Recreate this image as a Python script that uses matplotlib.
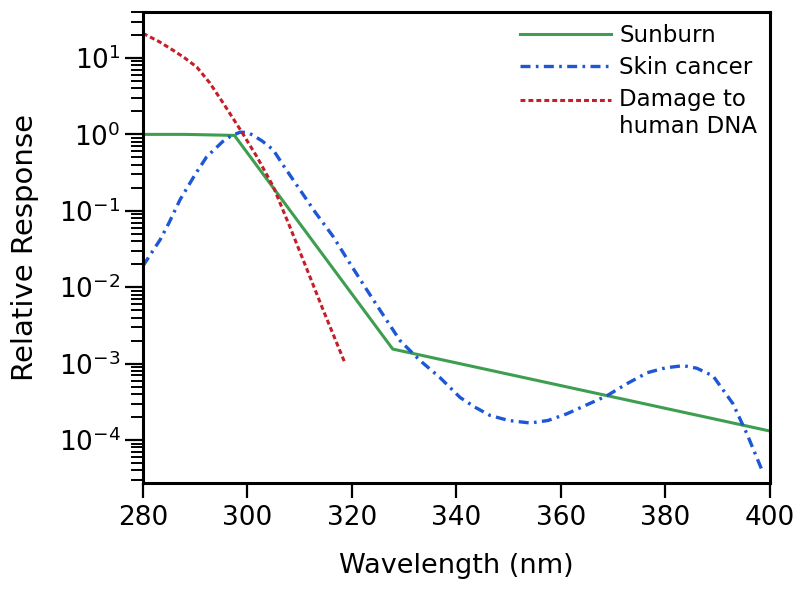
import numpy as np
import matplotlib
matplotlib.use("Agg")
import matplotlib.pyplot as plt
from matplotlib.ticker import LogLocator, NullFormatter, MultipleLocator

# Sunburn (action spectrum)
sun_x = [280, 288, 297.5, 327.8, 400]
sun_y = [1.0, 1.0, 0.97, 1.55e-3, 1.31e-4]

# Skin cancer
skin_x = [280, 283.3, 285, 287.1, 290, 292.2, 295.3, 296.8, 298.6, 300, 301, 302.8,
          304.9, 307, 310, 313, 316.4, 319.5, 322.9, 326, 329.2, 333, 336.8, 340.7,
          343.5, 346.4, 350, 354.1, 357.5, 361.1, 365, 368.8, 372.5, 376.5, 380,
          383.4, 386, 389.1, 392.9, 395.6, 398.7]
skin_y = [0.019, 0.042, 0.07, 0.14, 0.30, 0.51, 0.81, 0.95, 1.07, 1.06, 0.98, 0.82,
          0.63, 0.38, 0.19, 0.095, 0.046, 0.021, 0.0091, 0.0043, 0.002, 1.1e-3, 6.6e-4, 3.6e-4,
          2.7e-4, 2.1e-4, 1.8e-4, 1.67e-4, 1.8e-4, 2.2e-4, 2.9e-4, 3.8e-4, 5.4e-4, 7.6e-4, 8.8e-4,
          9.4e-4, 8.7e-4, 6.9e-4, 3.0e-4, 1.2e-4, 3.7e-5]

# Damage to human DNA
dna_x = [280, 283, 285.7, 288, 290.3, 292.8, 295.3, 298.6, 301.8, 304.9, 308.1, 311.4, 314.5, 318.7]
dna_y = [21, 16.5, 12.7, 10, 7.6, 4.7, 2.6, 1.16, 0.51, 0.21, 0.062, 0.017, 5e-3, 1.0e-3]

fig = plt.figure(figsize=(8.06, 5.9), dpi=100)
ax = fig.add_axes([0.1774, 0.1814, 0.7779, 0.7983])

ax.plot(sun_x, sun_y, color="#3d9e4f", lw=2.2, label="Sunburn")
l2, = ax.plot(skin_x, skin_y, color="#1d57d6", lw=2.4, label="Skin cancer")
l2.set_dashes([3, 1.6, 0.8, 1.6])
l3, = ax.plot(dna_x, dna_y, color="#c61e28", lw=2.2, label="Damage to\nhuman DNA")
l3.set_dashes([1.6, 1.0])

ax.set_yscale("log")
ax.set_xlim(280, 400)
ax.set_ylim(2.74e-5, 40)

ax.xaxis.set_major_locator(MultipleLocator(20))
ax.yaxis.set_major_locator(LogLocator(base=10, numticks=20))
ax.yaxis.set_minor_locator(LogLocator(base=10, subs=np.arange(2, 10), numticks=20))
ax.yaxis.set_minor_formatter(NullFormatter())

for s in ax.spines.values():
    s.set_linewidth(2.2)

ax.tick_params(axis="both", which="major", direction="out", width=1.6, labelsize=19)
ax.tick_params(axis="y", which="major", length=13, pad=3)
ax.tick_params(axis="y", which="minor", direction="out", length=9, width=1.4)
ax.tick_params(axis="x", which="major", length=11, pad=5)

ax.set_xlabel("Wavelength (nm)", fontsize=19.5, labelpad=16)
ax.set_ylabel("Relative Response", fontsize=21, labelpad=14)

fs = 16.5
leg = ax.legend(loc="upper left", bbox_to_anchor=(0.601, 0.975), frameon=False,
                fontsize=fs, handlelength=4.0, handletextpad=0.35, labelspacing=0.4,
                borderpad=0, borderaxespad=0)
# line up the DNA handle with the first line of its two-line label
h = leg.get_lines()[2]
h.set_ydata(np.asarray(h.get_ydata()) + 0.6 * fs)

fig.savefig("out.png", dpi=100)
